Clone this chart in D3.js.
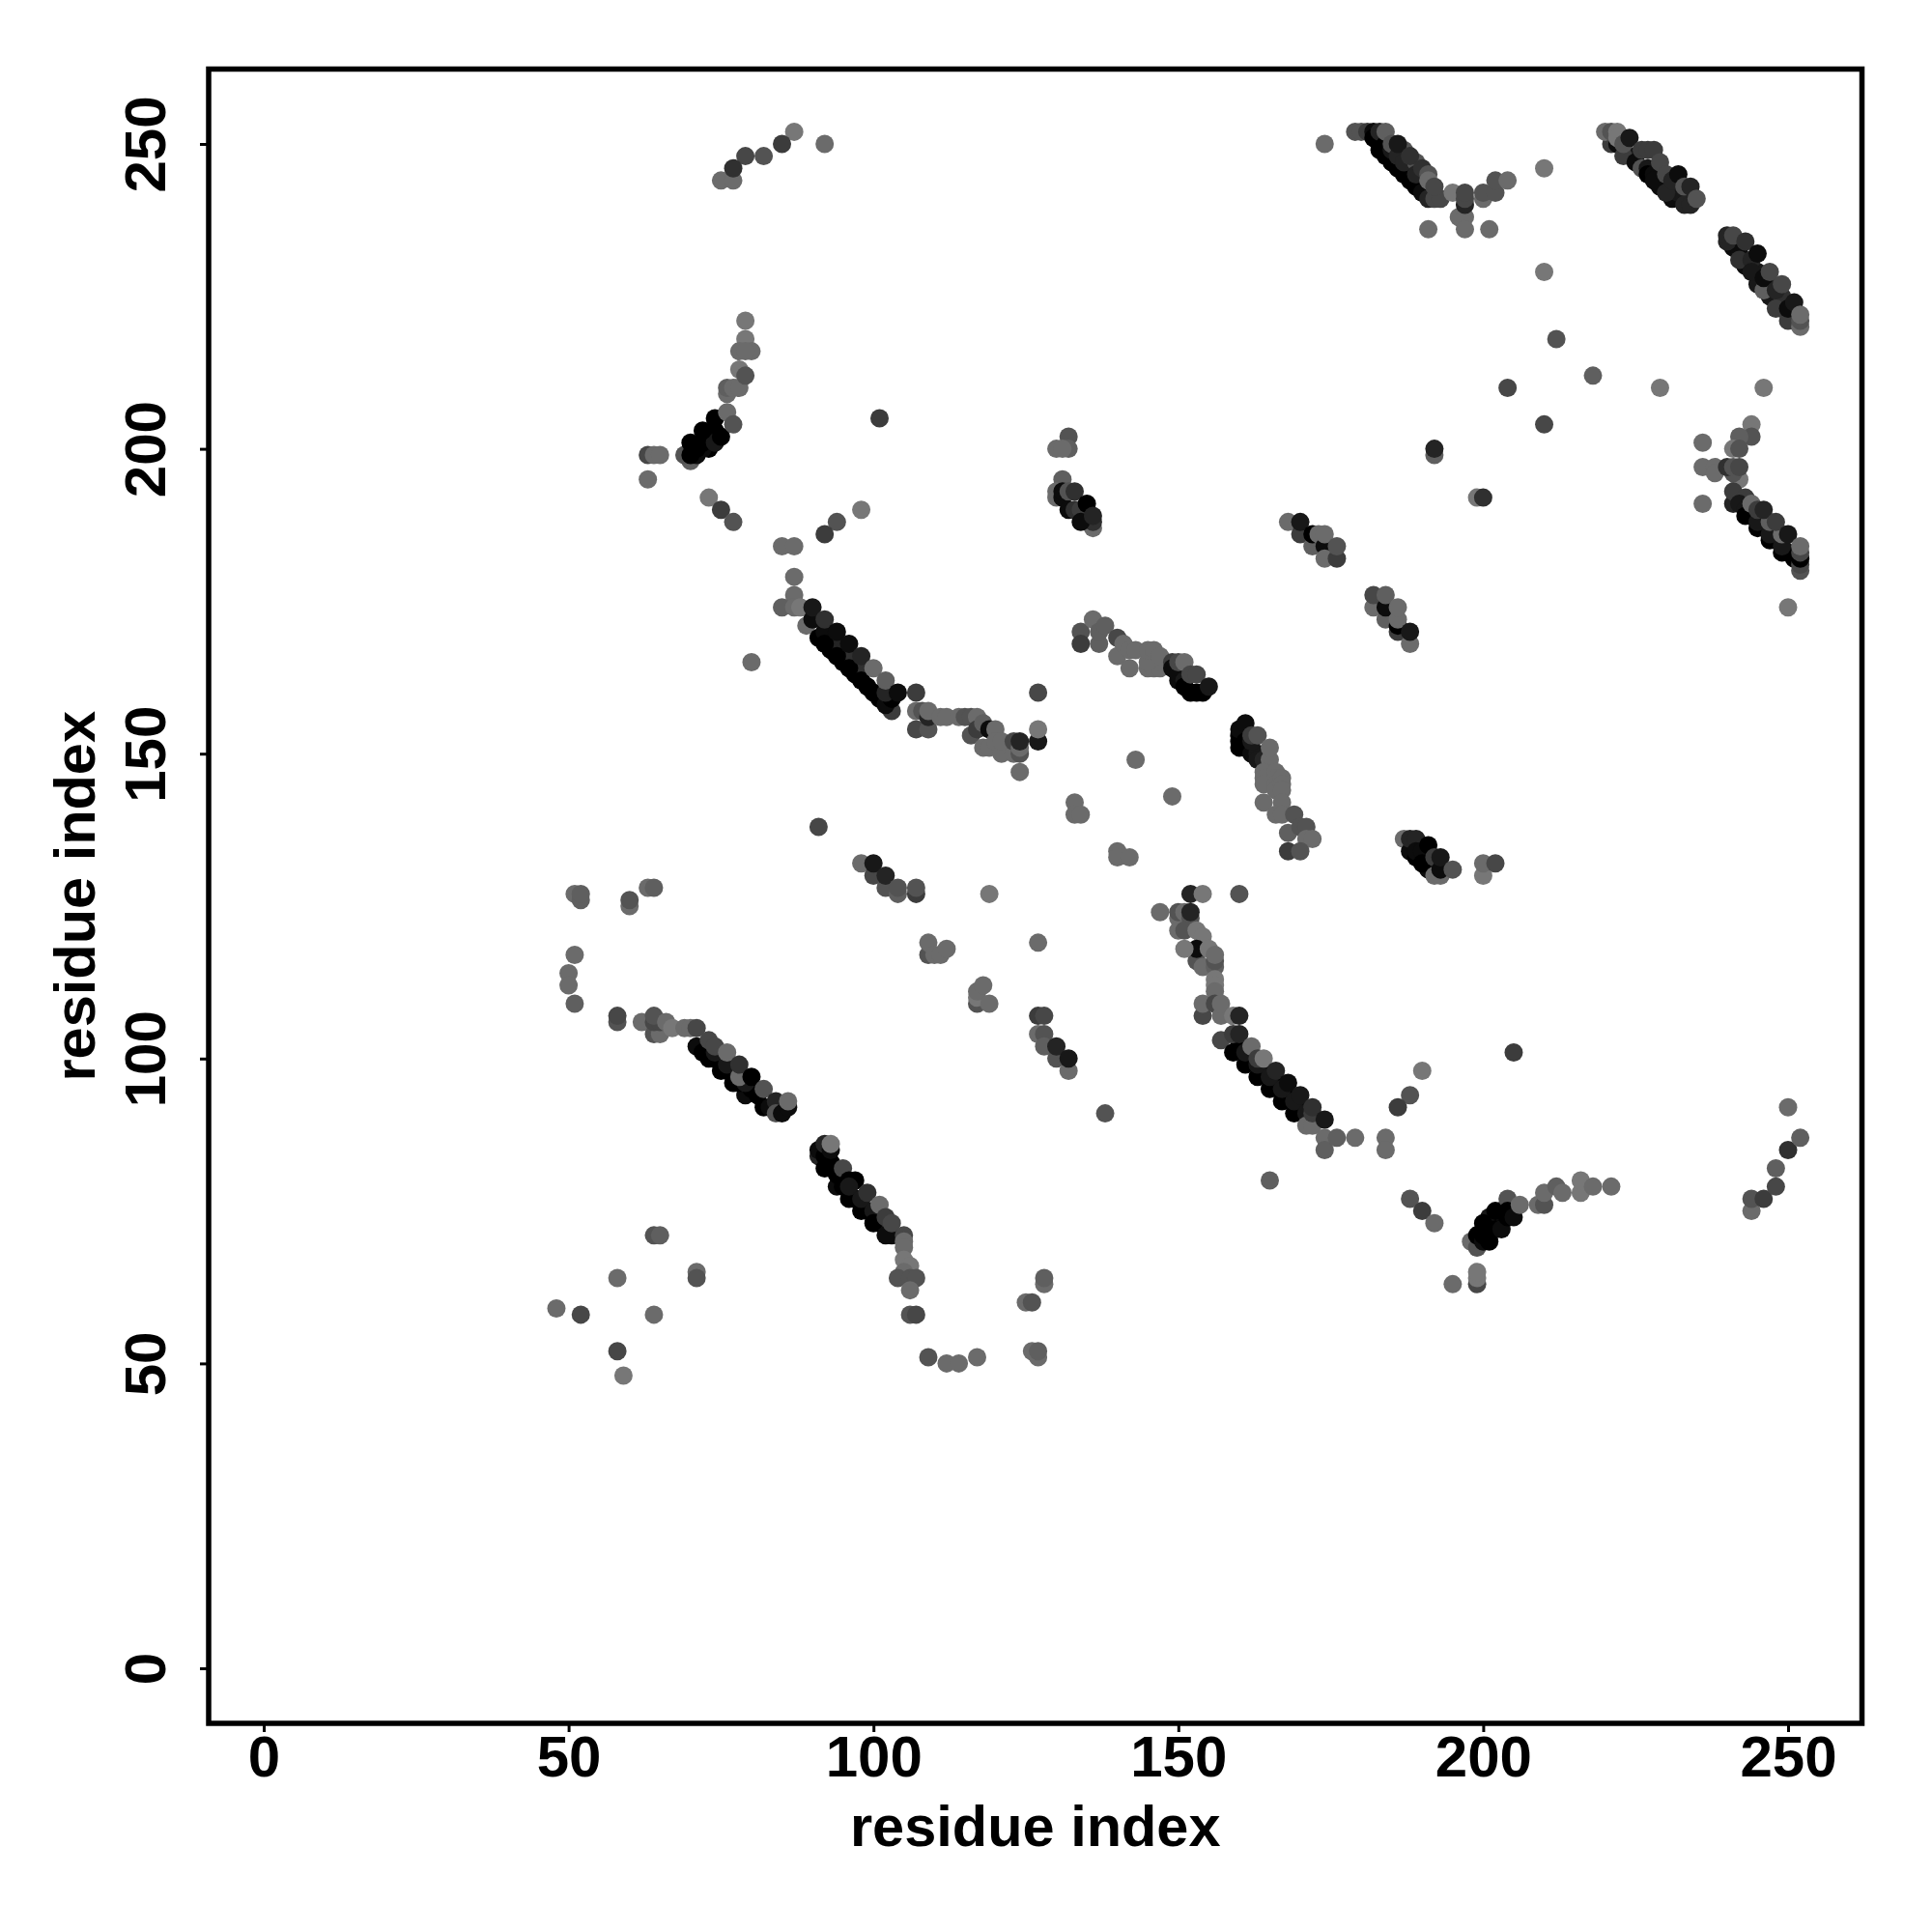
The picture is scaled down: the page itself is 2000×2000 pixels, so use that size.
<!DOCTYPE html>
<html>
<head>
<meta charset="utf-8">
<script src="https://cdn.jsdelivr.net/npm/d3@7"></script>
<style>html,body{margin:0;padding:0;background:#fff}svg{display:block}</style>
</head>
<body>
<svg id="chart" width="2000" height="2000"></svg>
<script>
// Each contact is [residue x, residue y, darkness 0 (lightest) .. 10 (black)]
const axisLabel = "residue index";
const tickValues = [0, 50, 100, 150, 200, 250];

const arcTopLeft = [[75,244,1],[77,244,1],[79,248,4],[77,246,6],[82,248,3],[87,252,0],[85,250,5],[92,250,1]];
const arcUpperLeft = [[79,221,0],[79,218,0],[78,216,1],[80,216,1],[79,216,1],[78,213,0],[76,209,1],[76,210,2],[77,210,1],[78,210,1],[79,212,3],
 [70,198,2],[69,199,3],[71,199,9],[70,199,10],[73,200,10],[72,200,9],[71,200,10],[72,201,10],[73,202,10],[74,203,10],[74,201,8],[70,201,10],[75,202,10],[72,203,10],[74,205,10],[76,206,1],[77,204,3],
 [63,199,4],[64,199,1],[65,199,1],[63,195,1],[73,192,0],[75,190,5],[77,188,3],[101,205,5],[98,190,0],[94,188,3],[92,186,5],[85,184,1],[87,184,1]];
const strandA = [[87,179,1],[87,176,1],[85,174,2],[87,174,1],[89,171,1],[88,174,0],
 [103,157,5],[91,169,10],[93,167,10],[95,165,10],[97,163,10],[99,161,10],[101,159,10],[90,172,9],[92,170,9],[94,168,7],[96,166,6],[98,164,6],[92,168,10],[94,166,10],[96,164,10],[98,162,10],[100,160,10],[102,158,9],[103,159,10],[102,160,7],
 [90,174,8],[92,172,6],[94,170,9],[96,168,9],[98,166,7],[100,164,1],[102,162,2],[104,160,9],[80,165,1]];
const strandB = [[107,160,5],[107,157,1],[107,154,4],[109,154,3],[108,157,3],[109,156,7],[109,157,1],[111,156,1],[112,156,1],[114,156,1],[115,156,3],[116,156,3],[117,156,1],[116,153,3],[117,154,5],[118,155,2],[119,154,9],[118,151,1],[119,151,1],[120,154,1],[120,152,1],[121,150,1],[121,152,1],[123,150,1],[123,152,4],[124,150,3],[124,151,1],[124,152,7],[124,147,1],[127,160,4],[127,152,8],[127,154,0]];
const scatterCentre = [[91,138,4],[143,149,1],[149,143,1],[133,142,1],[133,140,1],[134,140,1],[140,134,1],[140,133,1],[142,133,1]];
const strandC = [[134,170,3],[134,168,5],[136,172,1],[137,168,2],[137,170,2],[138,171,2],[140,169,4],[140,166,1],[142,164,1],[141,168,1],[142,167,1],[143,167,1],[145,164,1],[146,164,1],[147,164,1],[147,165,1],[145,165,1],[145,167,1],[146,167,1],[147,166,1],
 [149,165,5],[149,164,9],[150,162,9],[150,163,9],[151,162,8],[151,161,10],[150,165,4],[151,165,1],[152,160,10],[153,160,10],[154,160,10],[152,163,4],[153,163,4],[155,161,8]];
const patchA = [[132,202,3],[132,200,2],[130,200,1],[131,200,1],[131,195,2],[130,193,1],[130,192,1],[131,192,9],[131,193,9],[132,193,3],[133,193,6],[132,190,9],[133,190,6],[134,190,5],[135,191,10],[136,187,1],[136,188,6],[134,188,9],[136,189,7]];
const patchB = [[168,188,1],[170,186,5],[170,188,8],[172,184,2],[172,186,10],[173,186,1],[174,184,9],[174,182,1],[174,186,1],[176,182,5],[176,184,3]];
const patchC = [[182,174,1],[182,176,4],[184,172,2],[184,174,9],[184,176,2],[186,170,5],[186,171,10],[186,172,1],[186,174,1],[188,168,1],[188,170,8]];
const pairsUpper = [[192,199,2],[192,200,7],[199,192,0],[200,192,6]];
const strandD = [[160,151,10],[160,152,10],[160,153,10],[160,154,9],[161,151,10],[161,152,10],[161,155,9],[162,150,9],[163,150,8],[163,149,8],[162,152,8],[162,153,5],[163,153,3],[164,149,7],[165,149,1],[165,151,1],
 [164,147,1],[164,146,1],[164,145,1],[166,147,1],[166,146,1],[166,145,1],[166,144,1],[167,146,1],[167,145,1],[167,144,1],[164,142,1],[167,142,1],[166,140,1],[167,140,1],[169,140,3],[168,137,2],[170,138,3],[171,138,3],[171,136,1],[172,136,1],[168,134,5],[170,134,3]];
const patchD = [[187,136,1],[188,134,9],[188,136,7],[189,136,7],[189,133,10],[189,134,9],[190,134,9],[191,131,9],[192,132,9],[190,132,10],[191,135,10],[192,130,1],[193,130,1],[192,133,5],[193,131,9],[193,133,8],[195,131,3],[200,130,0],[200,132,1],[202,132,4]];
const patchE = [[98,132,1],[100,130,4],[100,132,8],[102,128,3],[102,130,7],[104,127,2],[104,128,3],[107,127,5],[107,128,3],[119,127,0],[127,119,1],
 [109,117,3],[109,119,1],[110,117,1],[111,117,1],[112,118,1],[117,109,3],[117,110,0],[117,111,1],[118,112,1],[119,109,1],
 [127,107,5],[128,107,4],[127,104,1],[128,104,3],[128,102,2],[130,100,3],[130,102,7],[132,98,1],[132,100,8],[138,91,3]];
const leftColumn = [[51,127,1],[52,126,2],[52,127,2],[60,125,1],[60,126,3],[63,128,1],[64,128,2],[51,117,1],[50,114,1],[50,112,1],[51,109,2],[58,106,3],[58,107,4]];
const strandF = [[62,106,1],[64,104,3],[65,104,1],[64,106,4],[65,106,4],[64,107,3],[66,106,1],[67,105,0],[69,105,1],[70,105,1],
 [71,102,9],[73,100,10],[75,98,10],[77,96,10],[79,94,9],[80,95,10],[82,92,10],[72,101,10],[74,100,10],[76,98,10],[78,96,10],[81,94,10],[83,92,9],[74,101,8],[76,99,8],[79,96,8],
 [71,105,4],[73,103,4],[74,102,4],[76,101,1],[78,97,1],[78,99,6],[80,97,10],[82,95,3],[84,93,7],[84,91,3],[85,91,9],[86,92,9],[86,93,1]];
const strandG = [[91,84,7],[91,85,9],[92,84,10],[93,83,10],[92,86,7],[93,85,9],[93,86,0],[92,82,10],[94,79,9],[94,81,10],[95,79,10],[95,82,4],[96,77,10],[96,80,10],[97,80,10],[98,75,10],[97,77,10],[99,75,10],[101,73,10],[103,71,9],[96,79,8],[98,77,8],[100,75,8],[102,73,7],[100,73,10],[99,78,6],[101,76,1],[102,71,9],[102,74,5],[103,73,4],
 [105,71,4],[105,70,1],[105,69,1],[105,67,0],[106,66,0],[105,65,1],[104,64,3],[106,64,3],[107,64,3],[106,62,1],[106,58,3],[107,58,4],[109,51,3],[112,50,1],[114,50,1],[117,51,1]];
const lowerPairs = [[125,60,1],[126,60,3],[128,63,1],[128,64,2],[126,52,1],[127,51,1],[127,52,2],[48,59,1],[52,58,4],[58,64,1],[64,71,3],[65,71,2],[64,58,1],[71,65,1],[71,64,3],[58,52,4],[59,48,0]];
const strandH = [[152,127,7],[154,127,0],[160,127,3],[147,124,1],[150,123,1],[150,124,3],[151,124,1],[152,123,3],[152,124,7],[150,121,1],[151,121,3],[153,121,0],[154,120,0],[153,116,3],[153,118,9],[151,118,0],[155,118,0],[154,115,1],[156,115,2],[156,116,3],[156,117,1],[156,113,0],[156,112,0],[156,111,1],
 [154,107,4],[154,109,1],[156,109,4],[157,107,1],[157,109,1],[159,107,0],[160,107,7],[157,103,4],
 [159,101,10],[161,99,10],[163,97,10],[165,95,10],[167,93,10],[169,91,10],[160,102,10],[162,100,10],[164,98,10],[166,96,10],[168,94,10],[170,92,10],[161,101,8],[163,99,8],[165,97,8],[167,95,8],[169,93,8],[171,91,8],
 [159,104,5],[160,104,7],[162,102,1],[163,100,5],[164,100,0],[166,98,7],[168,96,9],[170,94,8],[171,89,1],[172,89,1],[172,91,5],[172,92,6],[174,90,8]];
const tailH = [[174,87,1],[174,85,2],[176,87,2],[179,87,1],[184,87,1],[184,85,1],[190,98,0],[188,94,3],[186,92,5],[205,101,5],[165,80,2],[188,77,3],[190,75,5],[192,73,1]];
const strandI = [[195,63,1],[199,63,4],[199,64,0],[199,65,0],[198,70,1],[199,69,3],[199,71,10],[200,70,9],[201,70,10],[200,71,10],[201,72,10],[203,73,10],[201,74,8],[203,75,8],[200,73,10],[202,72,10],[203,72,9],[202,75,10],[204,74,10],[204,77,3],[204,75,10],[205,74,9],[206,76,1],
 [209,76,1],[210,76,3],[210,78,1],[212,79,2],[213,78,1],[216,78,0],[216,80,0],[218,79,1],[221,79,1]];
const lowerRight = [[244,75,1],[244,77,3],[246,77,5],[248,79,4],[248,82,2],[250,85,6],[250,92,1],[252,87,2]];
const strandJ = [[179,252,3],[180,252,3],[181,252,5],[182,252,9],[182,251,10],[183,252,7],[183,249,10],[185,247,10],[187,245,10],[189,243,10],[184,248,10],[186,246,10],[188,244,10],[190,242,9],[184,250,10],[185,249,8],[184,252,2],[185,250,3],[187,249,3],[186,248,7],[187,247,7],[189,247,3],[189,245,7],[186,250,8],[188,248,6],[190,246,6],[191,245,3],[191,241,7],[191,244,1],[192,241,4],[193,241,4],[192,243,4]];
const junctionJ = [[174,250,1],[195,242,0],[196,238,1],[197,238,1],[197,236,1],[191,236,1],[201,236,1],[197,240,7],[197,241,4],[197,242,4],[200,241,1],[200,242,3],[202,242,3],[202,244,3],[204,244,1]];
const scatterUpperRight = [[210,246,0],[210,229,0],[212,218,3],[218,212,2],[204,210,4],[229,210,0],[246,210,0],[210,204,4]];
const strandK = [[221,250,5],[222,250,9],[224,248,9],[225,248,8],[220,252,1],[221,252,3],[223,248,5],[222,252,0],[222,251,0],[223,250,3],[225,247,9],[226,246,3],[227,246,8],[227,245,10],[228,245,9],[229,243,9],[228,244,9],[231,241,9],[232,242,8],[233,241,8],[230,242,7],[224,251,8],[226,249,5],[227,249,5],[228,249,5],[229,247,4],[230,245,4],[231,244,7],[232,245,9],[233,243,3],[233,240,7],[234,240,7],[234,243,7],[235,241,3]];
const strandL = [[241,233,9],[242,232,9],[243,230,9],[245,229,8],[245,227,8],[247,225,8],[247,227,7],[249,223,7],[249,225,6],[251,221,5],[251,222,8],[240,234,7],[240,235,7],[241,235,4],[243,234,6],[242,231,6],[244,231,7],[244,229,8],[245,232,9],[246,226,2],[246,228,9],[247,229,4],[248,223,5],[248,226,7],[249,227,4],[250,221,5],[250,223,9],[251,224,8],[252,220,1],[252,221,3],[252,222,1]];
const patchRight = [[236,201,1],[244,204,0],[244,202,3],[242,202,2],[241,200,0],[242,200,3],[236,197,1],[238,197,1],[238,196,1],[242,195,0],[241,196,3],[240,197,6],[241,197,3],[242,197,4],[236,191,1]];
const strandM = [[241,191,7],[241,193,5],[243,192,5],[242,191,8],[243,190,8],[243,189,10],[245,187,10],[247,185,10],[249,183,10],[244,189,10],[246,187,10],[248,185,10],[250,183,10],[251,182,10],[245,188,8],[247,186,8],[249,184,8],[244,191,1],[245,190,5],[247,188,2],[249,186,1],[246,190,7],[248,188,5],[250,186,8],[252,180,3],[252,181,4],[252,182,10],[252,183,4],[252,184,1],[250,174,0]];

const contacts = [arcTopLeft, arcUpperLeft, strandA, strandB, scatterCentre, strandC, patchA, patchB, patchC, pairsUpper, strandD, patchD, patchE, leftColumn, strandF, strandG, lowerPairs, strandH, tailH, strandI, lowerRight, strandJ, junctionJ, scatterUpperRight, strandK, strandL, patchRight, strandM].flat();

const frame = {left: 216, right: 1927.5, top: 71.5, bottom: 1784};
const x = d3.scaleLinear().domain([0, 250]).range([273, 1851]);
const y = d3.scaleLinear().domain([0, 250]).range([1727, 149]);
const shade = d3.scaleLinear().domain([0, 10]).range(["#777777", "#000000"]);
const font = "'Liberation Sans', Arial, Helvetica, sans-serif";

const svg = d3.select("#chart");
svg.append("rect").attr("width", 2000).attr("height", 2000).attr("fill", "#fff");

svg.append("g").selectAll("circle").data(contacts).join("circle")
  .attr("cx", d => x(d[0])).attr("cy", d => y(d[1])).attr("r", 9.5)
  .attr("fill", d => shade(d[2]));

svg.append("rect")
  .attr("x", frame.left).attr("y", frame.top)
  .attr("width", frame.right - frame.left).attr("height", frame.bottom - frame.top)
  .attr("fill", "none").attr("stroke", "#000").attr("stroke-width", 5.5);

const gx = svg.append("g").attr("transform", `translate(0,${frame.bottom})`)
  .call(d3.axisBottom(x).tickValues(tickValues).tickSize(9));
const gy = svg.append("g").attr("transform", `translate(${frame.left},0)`)
  .call(d3.axisLeft(y).tickValues(tickValues).tickSize(9));
[gx, gy].forEach(g => {
  g.select(".domain").remove();
  g.selectAll(".tick line").attr("stroke", "#000").attr("stroke-width", 3);
  g.selectAll(".tick text").attr("fill", "#000")
    .style("font-family", font).style("font-size", "60px").style("font-weight", "700");
});
gx.selectAll(".tick text").attr("y", 55).attr("dy", 0).attr("text-anchor", "middle");
gy.selectAll(".tick text").attr("x", 0).attr("dy", 0).attr("y", 0)
  .attr("text-anchor", "middle").attr("transform", "translate(-45,0) rotate(-90)");

svg.append("text").attr("x", (frame.left + frame.right) / 2).attr("y", 1911)
  .attr("text-anchor", "middle").style("font-family", font).style("font-size", "59.5px").style("font-weight", "700")
  .text(axisLabel);
svg.append("text").attr("transform", `translate(98,${(frame.top + frame.bottom) / 2}) rotate(-90)`)
  .attr("text-anchor", "middle").style("font-family", font).style("font-size", "59.5px").style("font-weight", "700")
  .text(axisLabel);
</script>
</body>
</html>
